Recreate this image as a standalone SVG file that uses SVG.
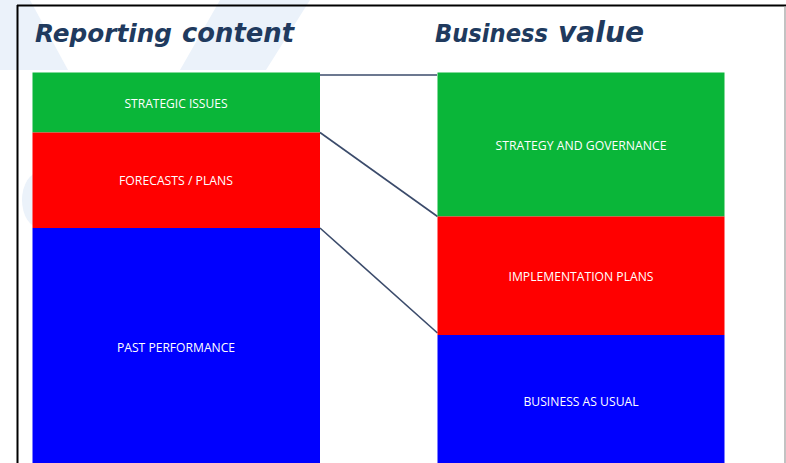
<svg xmlns="http://www.w3.org/2000/svg" width="786" height="463" viewBox="0 0 786 463">
  <style>
    .title { font-family: "DejaVu Sans", Verdana, sans-serif; font-weight: bold; font-style: italic; fill: #203a5e; }
    .lbl { font-family: "Open Sans", "Liberation Sans", Arial, sans-serif; font-size: 12.5px; fill: #ffffff; text-anchor: middle; }
    .green { fill: #0ab639; }
    .red { fill: #ff0000; }
    .blue { fill: #0000ff; }
    .conn { stroke: #3b4b6b; stroke-width: 1.6; fill: none; }
    .wm { fill: #ebf2fa; }
  </style>
  <rect x="0" y="0" width="786" height="463" fill="#ffffff"/>
  <g id="watermark">
    <polygon class="wm" points="0,0 30,0 68,70 0,70"/>
    <polygon class="wm" points="220,0 310,0 266,70 180,70"/>
    <ellipse class="wm" cx="40" cy="200" rx="18" ry="28"/>
  </g>
  <g id="frame">
    <line x1="17" y1="5.5" x2="786" y2="5.5" stroke="#000" stroke-width="2"/>
    <line x1="17.5" y1="5" x2="17.5" y2="463" stroke="#000" stroke-width="2"/>
    <line x1="785" y1="6" x2="785" y2="463" stroke="#9a9a9a" stroke-width="1.2"/>
  </g>
  <g id="title-left">
    <text class="title" x="35" y="42" font-size="24" textLength="137" lengthAdjust="spacingAndGlyphs">Reporting</text>
    <text class="title" x="182" y="42" font-size="27" textLength="112" lengthAdjust="spacingAndGlyphs">content</text>
  </g>
  <g id="title-right">
    <text class="title" x="435" y="42" font-size="24" textLength="113" lengthAdjust="spacingAndGlyphs">Business</text>
    <text class="title" x="558" y="42" font-size="28" textLength="86" lengthAdjust="spacingAndGlyphs">value</text>
  </g>
  <g id="connectors">
    <line class="conn" x1="320" y1="75" x2="437" y2="75"/>
    <line class="conn" x1="320" y1="132.5" x2="437.5" y2="216.5"/>
    <line class="conn" x1="320" y1="228" x2="437.5" y2="333"/>
  </g>
  <g id="strategic-issues">
    <rect class="green" x="32.5" y="72.5" width="287.5" height="60"/>
    <text class="lbl" x="176" y="108" textLength="103" lengthAdjust="spacingAndGlyphs">STRATEGIC ISSUES</text>
  </g>
  <g id="forecasts-plans">
    <rect class="red" x="32.5" y="132.5" width="287.5" height="95.5"/>
    <text class="lbl" x="176" y="184.5" textLength="114" lengthAdjust="spacingAndGlyphs">FORECASTS / PLANS</text>
  </g>
  <g id="past-performance">
    <rect class="blue" x="32.5" y="228" width="287.5" height="240"/>
    <text class="lbl" x="176" y="351.5" textLength="118" lengthAdjust="spacingAndGlyphs">PAST PERFORMANCE</text>
  </g>
  <g id="strategy-governance">
    <rect class="green" x="437.5" y="72.5" width="287" height="144"/>
    <text class="lbl" x="581" y="149.5" textLength="171" lengthAdjust="spacingAndGlyphs">STRATEGY AND GOVERNANCE</text>
  </g>
  <g id="implementation-plans">
    <rect class="red" x="437.5" y="216.5" width="287" height="118.5"/>
    <text class="lbl" x="581" y="280.5" textLength="145" lengthAdjust="spacingAndGlyphs">IMPLEMENTATION PLANS</text>
  </g>
  <g id="business-as-usual">
    <rect class="blue" x="437.5" y="335" width="287" height="133"/>
    <text class="lbl" x="581" y="405.5" textLength="115" lengthAdjust="spacingAndGlyphs">BUSINESS AS USUAL</text>
  </g>
</svg>
